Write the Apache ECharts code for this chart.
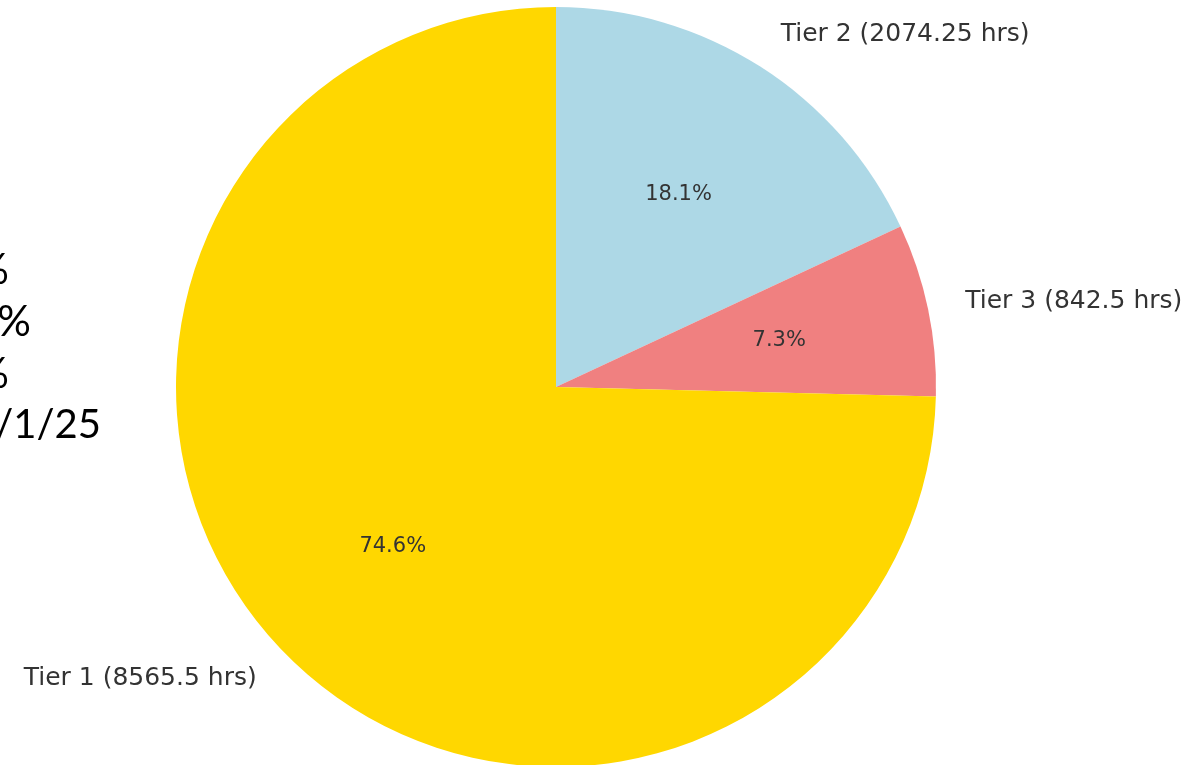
<!DOCTYPE html>
<html>
<head>
<meta charset="utf-8">
<script src="https://cdn.jsdelivr.net/npm/echarts@6/dist/echarts.min.js"></script>
<style>
html,body{margin:0;padding:0;background:#fff;}
#chart{width:1186px;height:765px;}
</style>
</head>
<body>
<div id="chart"></div>
<script>
// Data (clockwise from 12 o'clock)
const categories = ['Tier 2', 'Tier 3', 'Tier 1'];
const hours = [2074.25, 842.5, 8565.5];
const colors = ['#ADD8E6', '#F08080', '#FFD700'];
// partially visible slide text at the left edge
const sideTexts = ['%', '%', '%', '10/1/25'];

const total = hours.reduce((a, b) => a + b, 0);
const chart = echarts.init(document.getElementById('chart'), null, {renderer: 'canvas'});

const outerData = categories.map((c, i) => ({
  name: c, value: hours[i], itemStyle: {color: colors[i]}
}));
const innerData = categories.map((c, i) => ({
  name: c, value: hours[i], itemStyle: {color: 'rgba(0,0,0,0)'}
}));

const sideX = [9, 31, 9, 101];
const sideY = [270, 322, 374, 425];

chart.setOption({
  animation: false,
  backgroundColor: '#ffffff',
  graphic: sideTexts.map((t, i) => ({
    type: 'text',
    x: sideX[i], y: sideY[i],
    style: {
      text: t, fill: '#000', font: (i === 3 ? 40 : 42) + 'px Lato',
      textAlign: 'right', textVerticalAlign: 'middle'
    },
    silent: true
  })),
  series: [
    {
      type: 'pie',
      center: [556, 387],
      radius: [0, 380],
      startAngle: 90,
      clockwise: true,
      avoidLabelOverlap: false,
      silent: true,
      emphasis: {disabled: true},
      itemStyle: {borderWidth: 0},
      label: {
        show: true,
        position: 'outside',
        distanceToLabelLine: 0,
        edgeDistance: 0,
        bleedMargin: 0,
        color: '#333333',
        fontFamily: 'DejaVu Sans',
        fontSize: 25,
        formatter: p => p.name + ' (' + p.value + ' hrs)'
      },
      labelLine: {show: false, length: 38, length2: 0},
      data: outerData
    },
    {
      type: 'pie',
      center: [556, 387],
      radius: [0, 450],
      startAngle: 90,
      clockwise: true,
      silent: true,
      emphasis: {disabled: true},
      itemStyle: {borderWidth: 0},
      label: {
        show: true,
        position: 'inside',
        color: '#333333',
        fontFamily: 'DejaVu Sans',
        fontSize: 21,
        formatter: p => (p.value / total * 100).toFixed(1) + '%'
      },
      labelLine: {show: false},
      data: innerData
    }
  ]
});
</script>
</body>
</html>
